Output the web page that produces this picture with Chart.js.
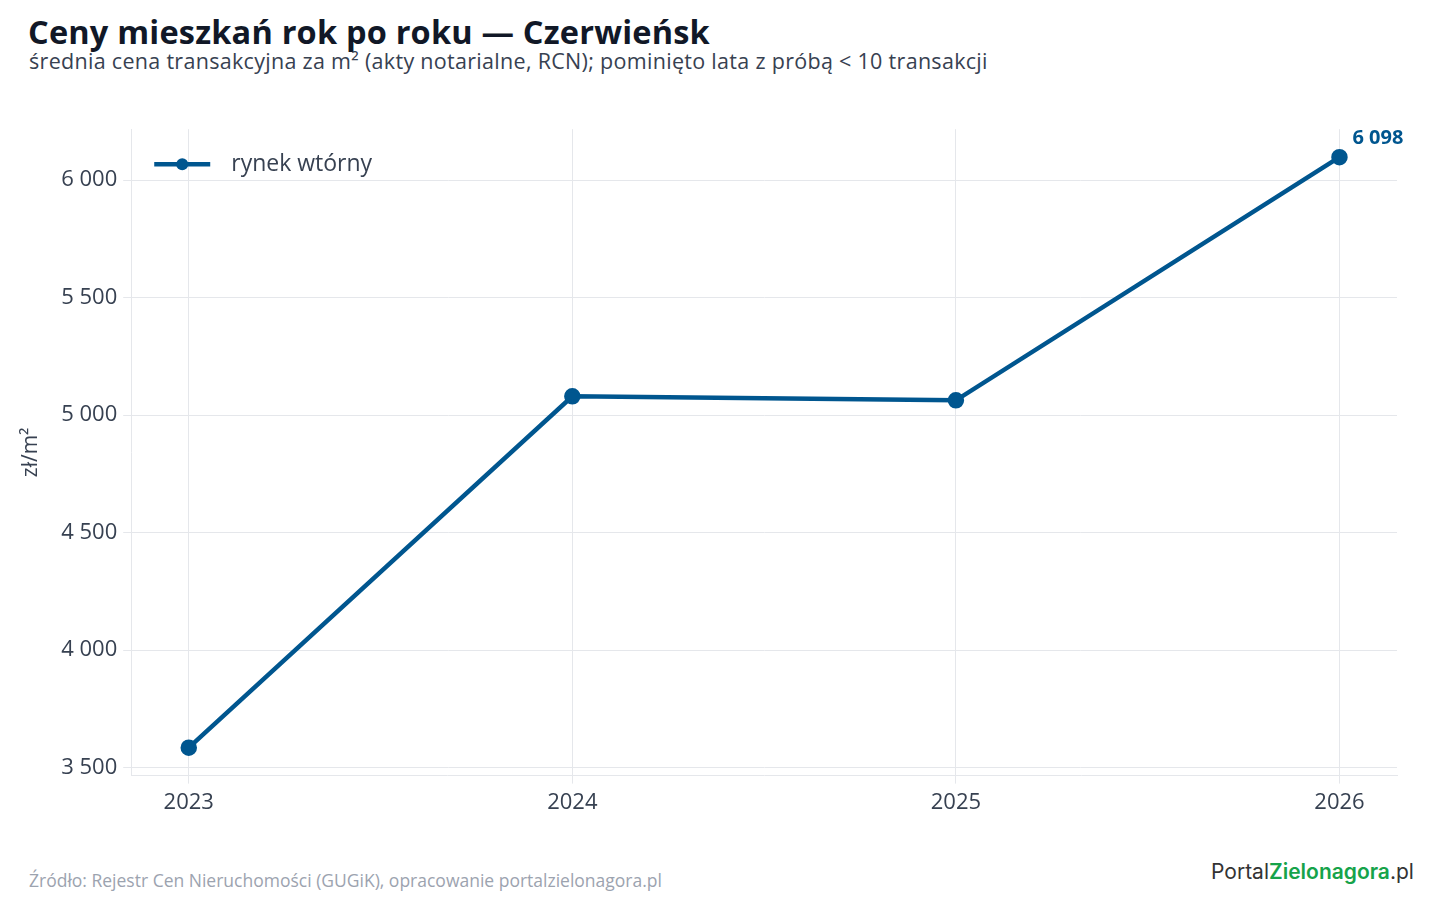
<!DOCTYPE html>
<html><head><meta charset="utf-8">
<script src="https://cdn.jsdelivr.net/npm/chart.js@4"></script>
<style>
body{margin:0;width:1440px;height:900px;background:#fff;font-family:"Open Sans","Noto Sans",sans-serif;position:relative;overflow:hidden}
#t{position:absolute;left:28px;top:9px;font-size:32.5px;font-weight:700;color:#111827;letter-spacing:0.2px}
#s{position:absolute;left:29px;top:46px;font-size:21.5px;color:#374151;letter-spacing:0.3px}
#f{position:absolute;left:29px;top:868px;font-size:17.5px;color:#9ca3af}
#logo{position:absolute;left:1211px;top:859px;font-size:21px;color:#333;font-family:"Inter",sans-serif}
#logo b{color:#16a34a;font-weight:600}
#w{position:absolute;left:0;top:110px;width:1440px;height:712px}
</style></head><body>
<div id="t">Ceny mieszkań rok po roku — Czerwieńsk</div>
<div id="s">średnia cena transakcyjna za m² (akty notarialne, RCN); pominięto lata z próbą &lt; 10 transakcji</div>
<div id="w"><canvas id="c"></canvas></div>
<div id="f">Źródło: Rejestr Cen Nieruchomości (GUGiK), opracowanie portalzielonagora.pl</div>
<div id="logo">Portal<b>Zielonagora</b>.pl</div>
<script>
const years = [2023, 2024, 2025, 2026];
const prices = [3585, 5080, 5063, 6098];
const yTicks = [3500, 4000, 4500, 5000, 5500, 6000];
const seriesName = 'rynek wtórny';
const color = '#00568f';
const fmt = v => String(Math.round(v)).replace(/\B(?=(\d{3})+(?!\d))/g, '\u00a0');
Chart.defaults.font.family = '"Open Sans"';

const extras = {
  id: 'extras',
  afterDatasetsDraw(chart) {
    const p = chart.getDatasetMeta(0).data[prices.length - 1];
    const ctx = chart.ctx;
    const a = chart.chartArea;
    ctx.save();
    ctx.font = 'bold 20px "Open Sans"';
    ctx.fillStyle = color;
    ctx.fillText(fmt(prices[prices.length - 1]), p.x + 13, p.y - 13);
    // legend
    const ly = a.top + 35, lx = a.left + 23;
    ctx.strokeStyle = color; ctx.lineWidth = 4.5;
    ctx.beginPath(); ctx.moveTo(lx, ly); ctx.lineTo(lx + 56, ly); ctx.stroke();
    ctx.beginPath(); ctx.arc(lx + 28, ly, 6, 0, Math.PI * 2); ctx.fill();
    ctx.font = '23px "Open Sans"'; ctx.fillStyle = '#374151'; ctx.textBaseline = 'middle';
    ctx.fillText(seriesName, lx + 77, ly);
    ctx.restore();
  }
};

new Chart(document.getElementById('c'), {
  type: 'line',
  data: {
    datasets: [{
      label: seriesName,
      data: years.map((y, i) => ({ x: y, y: prices[i] })),
      borderColor: color, backgroundColor: color,
      borderWidth: 4.5, pointRadius: 6, pointHoverRadius: 6
    }]
  },
  options: {
    responsive: true, maintainAspectRatio: false, animation: false,
    layout: { padding: { left: 14, right: 43, top: 17, bottom: 0 } },
    plugins: { legend: { display: false }, tooltip: { enabled: false } },
    scales: {
      x: {
        type: 'linear', min: 2022.85, max: 2026.15,
        afterBuildTicks: a => { a.ticks = years.map(v => ({ value: v })); },
        ticks: { color: '#374151', font: { size: 22 }, callback: v => String(v), padding: 6 },
        grid: { color: '#e5e7eb', tickLength: 8 },
        border: { color: '#e5e7eb' }
      },
      y: {
        min: 3466, max: 6217,
        afterBuildTicks: a => { a.ticks = yTicks.map(v => ({ value: v })); },
        ticks: { color: '#374151', font: { size: 22 }, callback: v => fmt(v), padding: 6 },
        grid: { color: '#e5e7eb', tickLength: 8 },
        border: { color: '#e5e7eb' },
        title: { display: true, text: 'zł/m²', color: '#374151', font: { size: 21 }, padding: { bottom: 12 } }
      }
    }
  },
  plugins: [extras]
});
</script>
</body></html>
